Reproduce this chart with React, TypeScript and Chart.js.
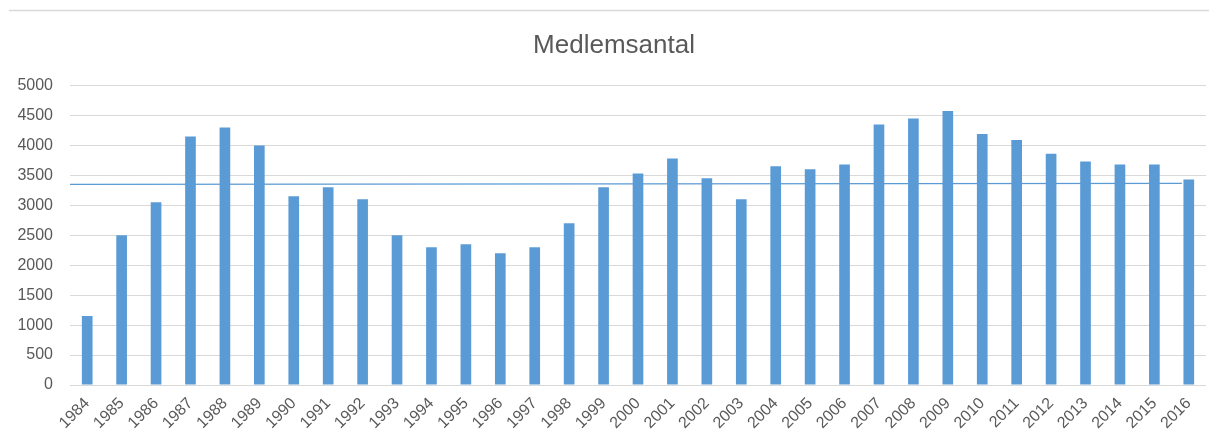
import React, { useEffect, useRef } from "react";
import { Chart, registerables } from "chart.js";

Chart.register(...registerables);

const years: string[] = [
  "1984", "1985", "1986", "1987", "1988", "1989", "1990", "1991", "1992", "1993", "1994",
  "1995", "1996", "1997", "1998", "1999", "2000", "2001", "2002", "2003", "2004", "2005",
  "2006", "2007", "2008", "2009", "2010", "2011", "2012", "2013", "2014", "2015", "2016",
];

const members: number[] = [
  1150, 2500, 3050, 4150, 4300, 4000, 3150, 3300, 3100, 2500, 2300,
  2350, 2200, 2300, 2700, 3300, 3530, 3780, 3450, 3100, 3650, 3600,
  3680, 4350, 4450, 4575, 4190, 4090, 3860, 3730, 3680, 3680, 3430,
];

// reference line (in category-index units on x, members on y)
const refLineX: number[] = [-0.5, 31.8];
const refLineY: number[] = [3350, 3367];

const yTicks: number[] = [0, 500, 1000, 1500, 2000, 2500, 3000, 3500, 4000, 4500, 5000];

const TITLE = "Medlemsantal";
const TEXT = "#595959";
const BLUE = "#5B9BD5";
const GRID = "#D9D9D9";
const FONT = "'Liberation Sans', Arial, sans-serif";

const decorations = {
  id: "decorations",
  beforeDraw(chart: any) {
    const ctx = chart.ctx;
    ctx.save();
    ctx.strokeStyle = GRID;
    ctx.lineWidth = 1.5;
    ctx.beginPath();
    ctx.moveTo(9, 10.5);
    ctx.lineTo(chart.width, 10.5);
    ctx.stroke();
    ctx.fillStyle = TEXT;
    ctx.font = `26px ${FONT}`;
    ctx.textAlign = "center";
    ctx.textBaseline = "alphabetic";
    ctx.fillText(TITLE, 614, 53);
    ctx.restore();
  },
};

export default function App() {
  const ref = useRef<HTMLCanvasElement | null>(null);

  useEffect(() => {
    if (!ref.current) return;
    const chart = new Chart(ref.current, {
      type: "bar",
      data: {
        labels: years,
        datasets: [
          {
            type: "bar" as const,
            data: members,
            xAxisID: "x",
            yAxisID: "y",
            backgroundColor: BLUE,
            borderWidth: 0,
            barPercentage: 0.31,
            categoryPercentage: 1,
            grouped: false,
            order: 1,
          } as any,
          {
            type: "line" as const,
            data: refLineX.map((x, i) => ({ x, y: refLineY[i] })),
            xAxisID: "x2",
            yAxisID: "y",
            borderColor: BLUE,
            borderWidth: 1.2,
            pointRadius: 0,
            fill: false,
            order: 2,
          } as any,
        ],
      },
      options: {
        animation: false,
        responsive: true,
        maintainAspectRatio: false,
        layout: { padding: { top: 85.5, left: 0, right: 3, bottom: 0 } },
        plugins: {
          legend: { display: false },
          tooltip: { enabled: false },
          title: { display: false },
        },
        scales: {
          x: {
            type: "category",
            offset: true,
            grid: { display: false, drawTicks: false },
            border: { display: false },
            ticks: {
              color: TEXT,
              font: { family: FONT, size: 16 },
              maxRotation: 45,
              minRotation: 45,
              autoSkip: false,
              padding: 9,
            },
            afterFit(scale: any) {
              scale.height = 58;
              scale.paddingRight = 0;
            },
          },
          x2: {
            type: "linear",
            display: false,
            offset: false,
            min: -0.5,
            max: years.length - 0.5,
          },
          y: {
            min: 0,
            max: 5000,
            afterBuildTicks(scale: any) {
              scale.ticks = yTicks.map((v) => ({ value: v }));
            },
            grid: { color: GRID, lineWidth: 1, drawTicks: false },
            border: { display: false },
            ticks: {
              color: TEXT,
              font: { family: FONT, size: 16 },
              padding: 17,
              callback: (v: any) => String(v),
            },
            afterFit(scale: any) {
              scale.width = 70;
            },
          },
        },
      } as any,
      plugins: [decorations],
    });
    return () => chart.destroy();
  }, []);

  return (
    <div style={{ position: "fixed", left: 0, top: 0, width: 1209, height: 443, background: "#fff" }}>
      <canvas ref={ref} />
    </div>
  );
}
